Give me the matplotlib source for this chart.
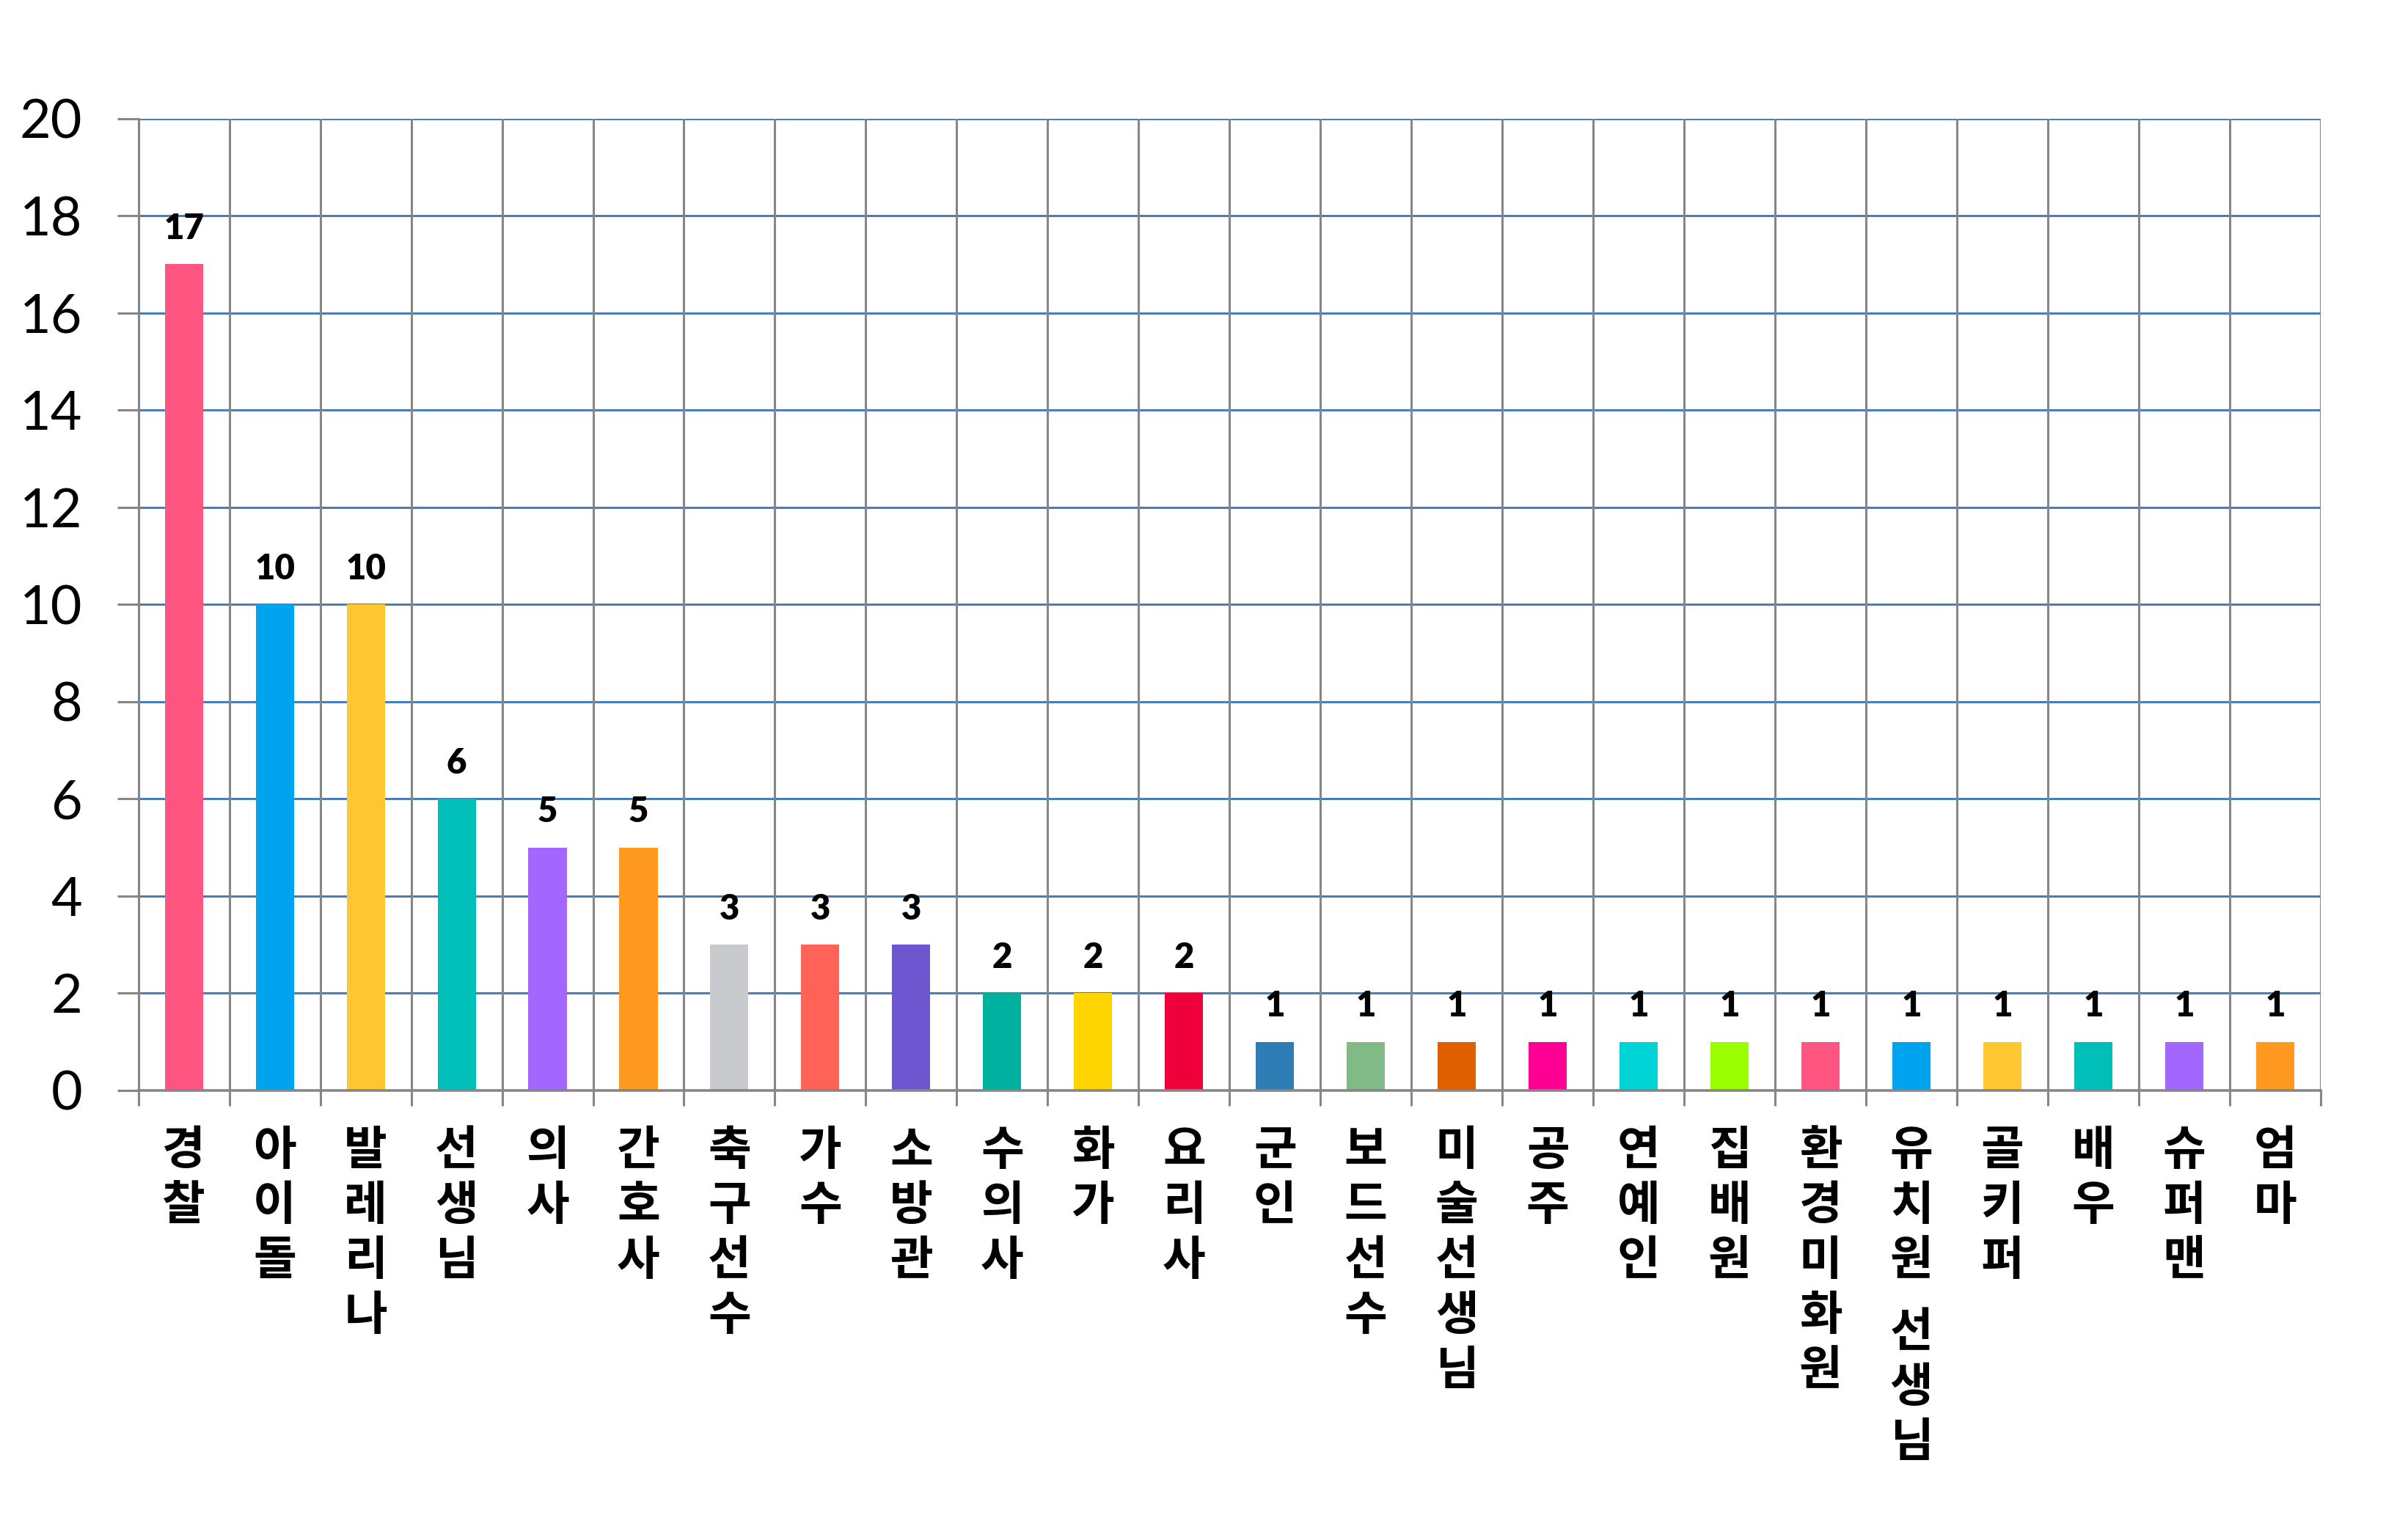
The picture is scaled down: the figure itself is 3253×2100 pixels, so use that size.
import numpy as np
import matplotlib
matplotlib.use('Agg')
import matplotlib.pyplot as plt

# job survey counts
jobs = ['경찰', '아이돌', '발레리나', '선생님', '의사', '간호사', '축구선수', '가수',
        '소방관', '수의사', '화가', '요리사', '군인', '보드선수', '미술선생님', '공주',
        '연예인', '집배원', '환경미화원', '유치원 선생님', '골키퍼', '배우', '슈퍼맨', '엄마']
counts = [17, 10, 10, 6, 5, 5, 3, 3, 3, 2, 2, 2, 1, 1, 1, 1, 1, 1, 1, 1, 1, 1, 1, 1]
bar_colors = ['#FF5580', '#00A3EE', '#FFC732', '#00BFB9', '#A366FF', '#FF991F',
              '#C8CACD', '#FF6358', '#6D56D0', '#00B1A0', '#FFD500', '#F0003A',
              '#2E7DB5', '#81BA86', '#E06000', '#FF0095', '#00D3D6', '#99FF00',
              '#FF5580', '#00A3EE', '#FFC732', '#00BFB9', '#A366FF', '#FF991F']
y_ticks = [0, 2, 4, 6, 8, 10, 12, 14, 16, 18, 20]

grey = '#868686'
blue = '#4A7EBB'

fig = plt.figure(figsize=(32.53, 21), dpi=100)
ax = fig.add_axes([0.058, 0.292, 0.9146, 0.631])

n = len(jobs)
x = np.arange(n)
ax.bar(x, counts, width=0.42, color=bar_colors, zorder=3)

ax.set_xlim(-0.5, n - 0.5)
ax.set_ylim(0, 20)

# horizontal blue grid, vertical grey grid at category borders
for yv in y_ticks[1:]:
    ax.axhline(yv, color=blue, lw=2.2, zorder=1)
for b in np.arange(n + 1) - 0.5:
    ax.axvline(b, color=grey, lw=2.2, zorder=2)

for s in ['top', 'right']:
    ax.spines[s].set_visible(False)
ax.spines['left'].set_color(grey)
ax.spines['bottom'].set_color(grey)
ax.spines['left'].set_linewidth(2.2)
ax.spines['bottom'].set_linewidth(2.6)
ax.spines['bottom'].set_zorder(4)

ax.set_yticks(y_ticks)
ax.set_yticklabels([str(v) for v in y_ticks], fontsize=53, family='Lato')
ax.tick_params(axis='y', length=21, width=2.2, color=grey, pad=34)

ax.set_xticks(np.arange(n + 1) - 0.5)
ax.set_xticklabels([])
ax.tick_params(axis='x', length=15, width=2.2, color=grey)

# value labels
for i, v in enumerate(counts):
    ax.annotate(str(v), xy=(i, v), xytext=(0, 19), textcoords='offset points',
                ha='center', va='bottom', fontsize=34, fontweight='heavy',
                family='Lato')

# vertical stacked korean category labels
pitch = 54
for i, name in enumerate(jobs):
    off = 36
    for ch in name:
        if ch == ' ':
            off += pitch * 0.3
            continue
        ax.annotate(ch, xy=(i, 0), xycoords=('data', 'axes fraction'),
                    xytext=(0, -off), textcoords='offset points',
                    ha='center', va='top', fontsize=46, fontweight='heavy',
                    family=['Noto Sans CJK KR', 'DejaVu Sans'])
        off += pitch

fig.savefig('out.png', dpi=100, facecolor='white')
